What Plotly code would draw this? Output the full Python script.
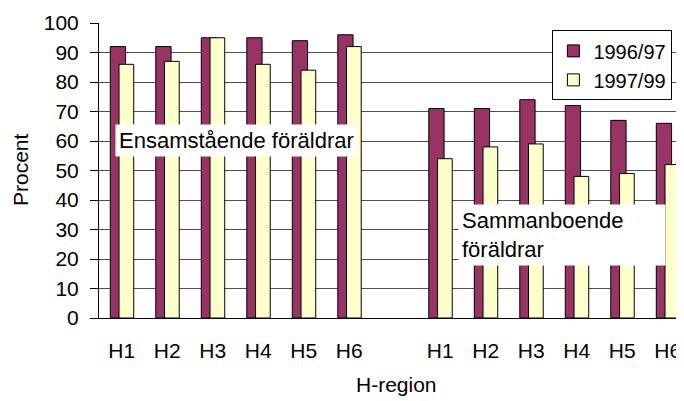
import plotly.graph_objects as go

# kategorier: H1-H6 ensamstående, tom lucka, H1-H6 sammanboende
kategorier = ["H1", "H2", "H3", "H4", "H5", "H6", "", "H1", "H2", "H3", "H4", "H5", "H6"]
varden_1996_97 = [92, 92, 95, 95, 94, 96, None, 71, 71, 74, 72, 67, 66]
varden_1997_99 = [86, 87, 95, 86, 84, 92, None, 54, 58, 59, 48, 49, 52]
y_ticks = [0, 10, 20, 30, 40, 50, 60, 70, 80, 90, 100]

font = "Liberation Sans, Arial, sans-serif"
farge_1996 = "#993366"
farge_1997 = "#FFFFCC"
textstorlek = 21

# sidan har 8 px marginal, så figuren görs 8 px mindre
W, H = 676, 393
L, T, B = 91, 15, 83

pos = list(range(len(kategorier)))
gränser = [p - 0.5 for p in pos] + [len(kategorier) - 0.5]
x_range = [-0.5, 12.357]

fig = go.Figure()

fig.add_trace(
    go.Bar(
        x=pos,
        y=varden_1996_97,
        name="1996/97",
        offset=-0.252,
        width=0.336,
        marker=dict(color=farge_1996, line=dict(color="black", width=1)),
    )
)
fig.add_trace(
    go.Bar(
        x=pos,
        y=varden_1997_99,
        name="1997/99",
        offset=-0.06,
        width=0.323,
        marker=dict(color=farge_1997, line=dict(color="black", width=1)),
    )
)

fig.update_layout(
    width=W,
    height=H,
    margin=dict(l=L, r=0, t=T, b=B, autoexpand=False),
    barmode="overlay",
    plot_bgcolor="white",
    paper_bgcolor="white",
    font=dict(family=font, size=textstorlek, color="black"),
    showlegend=True,
    legend=dict(
        x=0.775,
        y=0.975,
        xanchor="left",
        yanchor="top",
        bgcolor="white",
        bordercolor="black",
        borderwidth=1,
        font=dict(size=20),
        tracegroupgap=0,
        itemwidth=30,
    ),
    xaxis=dict(
        range=x_range,
        tickvals=pos,
        ticktext=kategorier,
        ticks="outside",
        ticklen=14,
        tickcolor="rgba(0,0,0,0)",
        showgrid=False,
        showline=True,
        linecolor="black",
        linewidth=1,
        zeroline=False,
    ),
    xaxis2=dict(
        range=x_range,
        overlaying="x",
        anchor="y",
        side="bottom",
        tickvals=gränser,
        ticks="outside",
        ticklen=8,
        tickcolor="black",
        showticklabels=False,
        showgrid=False,
        showline=False,
        zeroline=False,
    ),
    yaxis=dict(
        range=[0, 100],
        tickvals=y_ticks,
        ticks="outside",
        ticklen=8,
        tickcolor="black",
        ticklabelstandoff=7,
        showline=True,
        linecolor="black",
        linewidth=1,
        showgrid=True,
        gridcolor="#505050",
        gridwidth=1,
        zeroline=False,
    ),
    annotations=[
        dict(
            text="Ensamstående föräldrar",
            x=2.53,
            y=60.2,
            xref="x",
            yref="y",
            showarrow=False,
            bgcolor="white",
            borderpad=3,
            font=dict(size=22),
        ),
        dict(
            text="Sammanboende<br>föräldrar",
            x=7.397,
            y=38.5,
            xref="x",
            yref="y",
            xanchor="left",
            yanchor="top",
            align="left",
            width=200,
            showarrow=False,
            bgcolor="white",
            borderpad=3,
            font=dict(size=22),
        ),
        dict(
            text="Procent",
            x=20 - 8,
            y=170 - 8,
            xref="paper",
            yref="paper",
            xanchor="center",
            yanchor="middle",
            showarrow=False,
            textangle=-90,
        ),
        dict(
            text="H-region",
            x=396 - 8,
            y=384 - 8,
            xref="paper",
            yref="paper",
            xanchor="center",
            yanchor="middle",
            showarrow=False,
        ),
    ],
)

# axeltitlar i pixlar -> papperskoordinater
plot_w = W - L
plot_h = H - T - B
for ann in fig.layout.annotations:
    if ann.xref == "paper":
        ann.x = (ann.x - L) / plot_w
        ann.y = (H - B - ann.y) / plot_h

fig.write_html("out.html")
